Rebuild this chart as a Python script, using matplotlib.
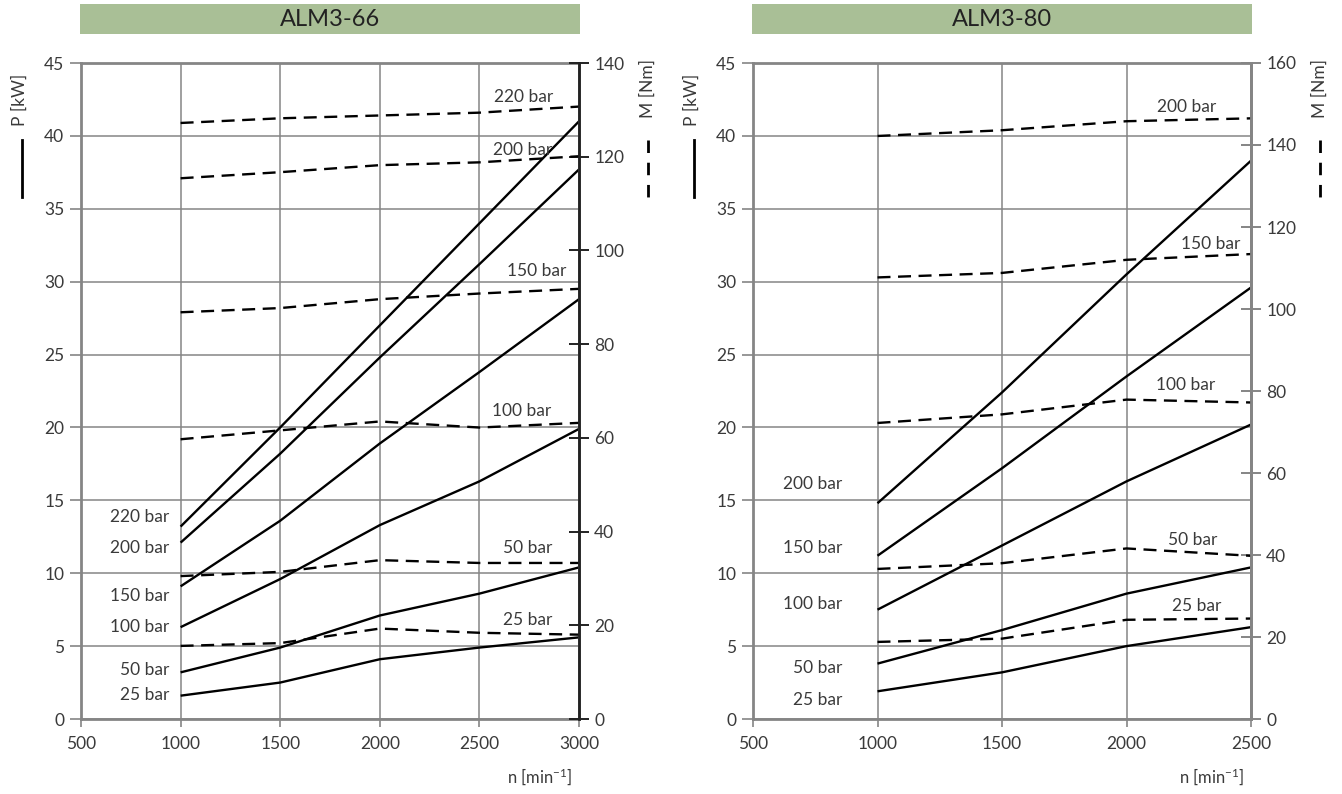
import matplotlib
matplotlib.use('Agg')
import matplotlib.pyplot as plt
from matplotlib.patches import Rectangle
from matplotlib.lines import Line2D

plt.rcParams['font.family'] = ['Lato', 'DejaVu Sans']
plt.rcParams['mathtext.default'] = 'regular'

# ---------------- data ----------------
titles = ['ALM3-66', 'ALM3-80']
pressures_66 = ['220 bar', '200 bar', '150 bar', '100 bar', '50 bar', '25 bar']
pressures_80 = ['200 bar', '150 bar', '100 bar', '50 bar', '25 bar']

rpm_66 = [1000, 1500, 2000, 2500, 3000]
power_66_220 = [13.2, 20.0, 27.0, 34.0, 41.0]
power_66_200 = [12.1, 18.2, 24.8, 31.2, 37.7]
power_66_150 = [9.1, 13.6, 18.9, 23.8, 28.8]
power_66_100 = [6.3, 9.6, 13.3, 16.3, 19.9]
power_66_50 = [3.2, 4.9, 7.1, 8.6, 10.4]
power_66_25 = [1.6, 2.5, 4.1, 4.9, 5.6]
torque_66_220 = [127.2, 128.2, 128.8, 129.4, 130.7]
torque_66_200 = [115.4, 116.7, 118.2, 118.8, 120.1]
torque_66_150 = [86.8, 87.7, 89.6, 90.8, 91.8]
torque_66_100 = [59.7, 61.6, 63.5, 62.2, 63.2]
torque_66_50 = [30.5, 31.4, 33.9, 33.3, 33.3]
torque_66_25 = [15.6, 16.2, 19.3, 18.4, 18.0]

rpm_80 = [1000, 1500, 2000, 2500]
power_80_200 = [14.8, 22.4, 30.5, 38.3]
power_80_150 = [11.2, 17.2, 23.5, 29.6]
power_80_100 = [7.5, 11.9, 16.3, 20.2]
power_80_50 = [3.8, 6.1, 8.6, 10.4]
power_80_25 = [1.9, 3.2, 5.0, 6.3]
torque_80_200 = [142.2, 143.6, 145.8, 146.5]
torque_80_150 = [107.7, 108.8, 112.0, 113.4]
torque_80_100 = [72.2, 74.3, 77.9, 77.2]
torque_80_50 = [36.6, 38.0, 41.6, 39.8]
torque_80_25 = [18.8, 19.6, 24.2, 24.5]

x_ticks_66 = [500, 1000, 1500, 2000, 2500, 3000]
x_ticks_80 = [500, 1000, 1500, 2000, 2500]
p_ticks = [0, 5, 10, 15, 20, 25, 30, 35, 40, 45]
m_ticks_66 = [0, 20, 40, 60, 80, 100, 120, 140]
m_ticks_80 = [0, 20, 40, 60, 80, 100, 120, 140, 160]

# ---------------- style ----------------
W, H = 1342, 794
fig = plt.figure(figsize=(W / 100, H / 100), dpi=100)
GRID = '#858585'
TXT = '#3a3a3a'
BAR = '#a9bf96'
FS = 12.5


def fx(px):
    return px / W


def fy(py):
    return 1 - py / H


def panel(left_px, title, rpm, powers, torques, xticks, xmax, mmax, mticks,
          left_labels, right_labels, right_spine_dark):
    ax = fig.add_axes([fx(left_px), fy(719), (498) / W, (719 - 63) / H])
    ax.set_xlim(500, xmax)
    ax.set_ylim(0, 45)
    ax.set_xticks(xticks)
    ax.set_yticks(p_ticks)
    ax.grid(True, color=GRID, lw=1.1)
    ax.set_axisbelow(True)
    for s in ['left', 'bottom', 'top', 'right']:
        ax.spines[s].set_color(GRID)
        ax.spines[s].set_linewidth(2.0)
    ax.tick_params(axis='y', direction='out', length=8, width=1.2, color=GRID,
                   labelcolor=TXT, labelsize=FS, pad=4)
    ax.tick_params(axis='x', direction='out', length=6, width=1.2, color=GRID,
                   labelcolor=TXT, labelsize=FS, pad=6)
    for p in powers:
        ax.plot(rpm, p, color='black', lw=1.7, solid_capstyle='butt')

    ax2 = ax.twinx()
    ax2.set_ylim(0, mmax)
    ax2.set_yticks(mticks)
    ax2.tick_params(axis='y', direction='inout', length=14, width=1.4,
                    color=('#222222' if right_spine_dark else GRID),
                    labelcolor=TXT, labelsize=FS, pad=4)
    for s in ['left', 'bottom', 'top']:
        ax2.spines[s].set_visible(False)
    ax2.spines['right'].set_color('#222222' if right_spine_dark else GRID)
    ax2.spines['right'].set_linewidth(2.0)
    for t in torques:
        ax2.plot(rpm, t, color='black', lw=1.7, dashes=(5.5, 3.2))

    for (txt, x, y) in left_labels:
        ax.text(x, y, txt, ha='right', va='center', fontsize=FS, color=TXT)
    for (txt, x, y) in right_labels:
        ax.text(x, y, txt, ha='right', va='center', fontsize=FS, color=TXT)

    # title bar
    fig.add_artist(Rectangle((fx(left_px - 1), fy(34)), 500 / W, 30 / H,
                             transform=fig.transFigure, facecolor=BAR,
                             edgecolor='none'))
    fig.text(fx(left_px + 249), fy(19), title, ha='center', va='center',
             fontsize=17, color='#222222')

    # axis labels with line-style keys
    fig.text(fx(left_px - 61), fy(100), 'P [kW]', rotation=90, ha='center',
             va='center', fontsize=FS, color=TXT)
    fig.add_artist(Line2D([fx(left_px - 59)] * 2, [fy(140), fy(197)],
                          transform=fig.transFigure, color='black', lw=2))
    fig.text(fx(left_px + 567), fy(88), 'M [Nm]', rotation=90, ha='center',
             va='center', fontsize=FS, color=TXT)
    fig.add_artist(Line2D([fx(left_px + 567)] * 2, [fy(140), fy(197)],
                          transform=fig.transFigure, color='black', lw=2,
                          dashes=(4.5, 3.5)))
    fig.text(fx(left_px + 459), fy(777), 'n [min$^{-1}$]', ha='center',
             va='center', fontsize=FS - 0.5, color=TXT)
    return ax


panel(81, titles[0], rpm_66,
      [power_66_220, power_66_200, power_66_150, power_66_100, power_66_50, power_66_25],
      [torque_66_220, torque_66_200, torque_66_150, torque_66_100, torque_66_50, torque_66_25],
      x_ticks_66, 3000, 140, m_ticks_66,
      [(pressures_66[0], 945, 13.85), (pressures_66[1], 945, 11.75),
       (pressures_66[2], 945, 8.45), (pressures_66[3], 945, 6.3),
       (pressures_66[4], 945, 3.35), (pressures_66[5], 945, 1.65)],
      [(pressures_66[0], 2870, 42.7), (pressures_66[1], 2865, 39.0),
       (pressures_66[2], 2935, 30.7), (pressures_66[3], 2860, 21.1),
       (pressures_66[4], 2865, 11.7), (pressures_66[5], 2865, 6.8)],
      True)

panel(753, titles[1], rpm_80,
      [power_80_200, power_80_150, power_80_100, power_80_50, power_80_25],
      [torque_80_200, torque_80_150, torque_80_100, torque_80_50, torque_80_25],
      x_ticks_80, 2500, 160, m_ticks_80,
      [(pressures_80[0], 858, 16.1), (pressures_80[1], 858, 11.7),
       (pressures_80[2], 858, 7.9), (pressures_80[3], 858, 3.5),
       (pressures_80[4], 858, 1.3)],
      [(pressures_80[0], 2362, 42.0), (pressures_80[1], 2458, 32.6),
       (pressures_80[2], 2358, 22.9), (pressures_80[3], 2365, 12.3),
       (pressures_80[4], 2382, 7.75)],
      False)

fig.savefig('out.png', dpi=100, facecolor='white')
